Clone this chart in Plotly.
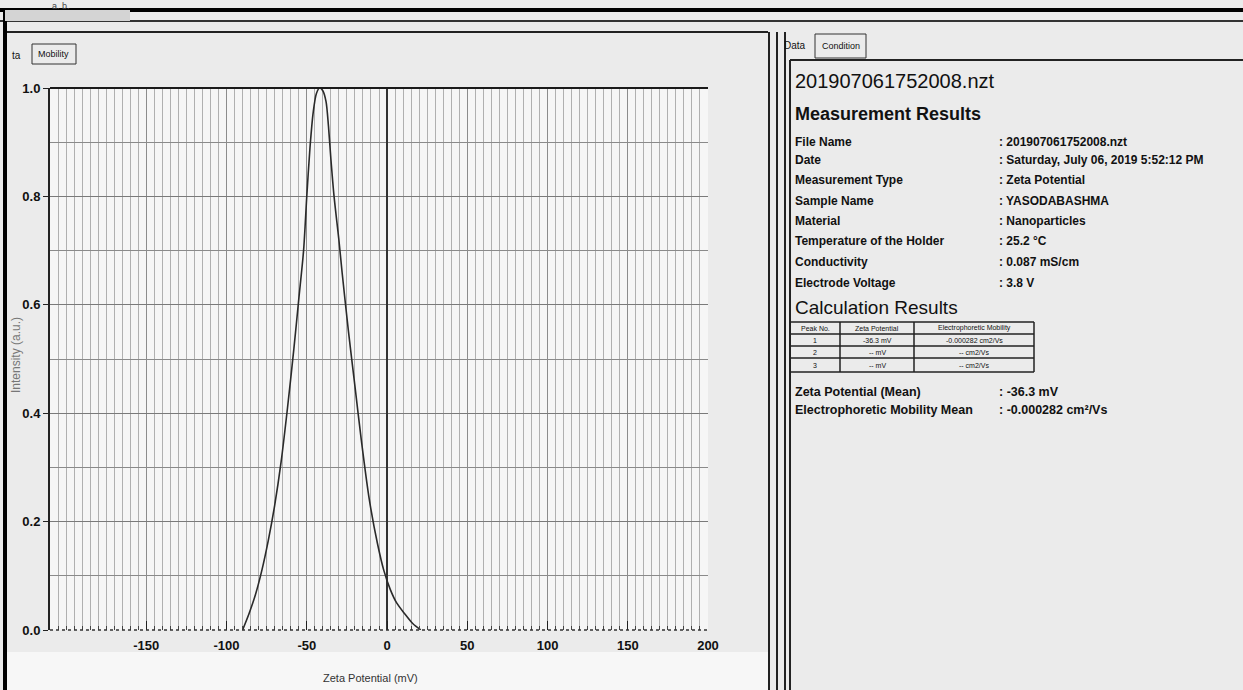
import plotly.graph_objects as go

# ---- data ----
zeta_mv = [-90, -86, -82, -78, -74, -70, -66, -62, -58, -55, -52, -50, -48, -46,
           -44, -42, -40, -38, -36.5, -35, -33, -30, -28, -24, -20, -16, -11,
           -6, -2, 2, 6, 11, 16, 21]
intensity = [0.0, 0.03, 0.065, 0.11, 0.165, 0.23, 0.31, 0.41, 0.52, 0.61, 0.70,
             0.80, 0.89, 0.955, 0.99, 1.0, 0.995, 0.975, 0.93, 0.87, 0.80, 0.72,
             0.66, 0.55, 0.45, 0.35, 0.24, 0.16, 0.11, 0.075, 0.05, 0.03, 0.012, 0.0]

x_ticks = [-150, -100, -50, 0, 50, 100, 150, 200]
y_ticks = [0.0, 0.2, 0.4, 0.6, 0.8, 1.0]

file_title = "201907061752008.nzt"
info_labels = ["File Name", "Date", "Measurement Type", "Sample Name", "Material",
               "Temperature of the Holder", "Conductivity", "Electrode Voltage"]
info_values = ["201907061752008.nzt", "Saturday, July 06, 2019 5:52:12 PM",
               "Zeta Potential", "YASODABASHMA", "Nanoparticles", "25.2 °C",
               "0.087 mS/cm", "3.8 V"]
table_header = ["Peak No.", "Zeta Potential", "Electrophoretic Mobility"]
table_rows = [["1", "-36.3 mV", "-0.000282 cm2/Vs"],
              ["2", "-- mV", "-- cm2/Vs"],
              ["3", "-- mV", "-- cm2/Vs"]]
summary_labels = ["Zeta Potential (Mean)", "Electrophoretic Mobility Mean"]
summary_values = ["-36.3 mV", "-0.000282 cm²/Vs"]

# ---- layout geometry (pixels) ----
W, H = 1243, 690
L, R, T, B = 50, 708, 88, 630


def px(x):
    return (x - L) / (R - L)


def py(y):
    return (B - y) / (B - T)


FONT = "Liberation Sans, Arial, sans-serif"

fig = go.Figure()
fig.add_trace(go.Scatter(x=zeta_mv, y=intensity, mode="lines",
                         line=dict(color="#2a2a2a", width=1.6, shape="spline", smoothing=0.8),
                         showlegend=False, hoverinfo="x+y"))

fig.update_layout(
    width=W, height=H,
    margin=dict(l=L, r=W - R, t=T, b=H - B, pad=0),
    paper_bgcolor="#ebebeb", plot_bgcolor="#f6f6f6",
    font=dict(family=FONT, color="#111"),
    xaxis=dict(range=[-210, 200], tickvals=x_ticks, ticktext=[str(v) for v in x_ticks],
               showgrid=True, gridcolor="#8c8c8c", gridwidth=1,
               minor=dict(dtick=5, tick0=0, showgrid=True, gridcolor="#b0b0b0", gridwidth=1,
                          ticks="inside", ticklen=4, tickcolor="#444"),
               ticks="inside", ticklen=9, tickcolor="#222",
               zeroline=True, zerolinecolor="#333", zerolinewidth=2,
               showline=False, tickfont=dict(size=13, family=FONT, color="#111", weight="bold"),
               ticklabelstandoff=6),
    yaxis=dict(range=[0, 1.0], tickvals=y_ticks, ticktext=["0.0", "0.2", "0.4", "0.6", "0.8", "1.0"],
               showgrid=True, gridcolor="#7a7a7a", gridwidth=1,
               minor=dict(dtick=0.1, showgrid=True, gridcolor="#8a8a8a", gridwidth=1),
               ticks="outside", ticklen=5, tickcolor="#222",
               zeroline=False, showline=True, linecolor="#222", linewidth=2,
               tickfont=dict(size=13, family=FONT, color="#111", weight="bold")),
)

shapes = []
# top plot border
shapes.append(dict(type="line", xref="paper", yref="paper", x0=0, x1=1, y0=1, y1=1,
                   line=dict(color="#1a1a1a", width=2)))
# dotted x baseline
shapes.append(dict(type="line", xref="paper", yref="paper", x0=0, x1=1, y0=0, y1=0,
                   line=dict(color="#333", width=1.5, dash="dot")))
# window frame lines
shapes.append(dict(type="line", xref="paper", yref="paper", x0=px(0), x1=px(W), y0=py(10), y1=py(10),
                   line=dict(color="#000", width=4)))
shapes.append(dict(type="line", xref="paper", yref="paper", x0=px(0), x1=px(W), y0=py(21), y1=py(21),
                   line=dict(color="#333", width=2)))
shapes.append(dict(type="line", xref="paper", yref="paper", x0=px(5), x1=px(768), y0=py(32), y1=py(32),
                   line=dict(color="#222", width=2)))
shapes.append(dict(type="line", xref="paper", yref="paper", x0=px(5), x1=px(5), y0=py(10), y1=py(H),
                   line=dict(color="#000", width=4)))
shapes.append(dict(type="rect", xref="paper", yref="paper", x0=px(5), x1=px(130), y0=py(10), y1=py(21),
                   line=dict(width=0), fillcolor="#d4d4d4"))
for xv in [769, 777, 785]:
    shapes.append(dict(type="line", xref="paper", yref="paper", x0=px(xv), x1=px(xv), y0=py(32), y1=py(H),
                       line=dict(color="#222", width=2)))
# left tab
shapes.append(dict(type="rect", xref="paper", yref="paper", x0=px(32), x1=px(76), y0=py(64), y1=py(44),
                   line=dict(color="#333", width=1), fillcolor="rgba(0,0,0,0)"))
# right tabs and results box
shapes.append(dict(type="rect", xref="paper", yref="paper", x0=px(815), x1=px(866), y0=py(58), y1=py(34),
                   line=dict(color="#333", width=1), fillcolor="rgba(0,0,0,0)"))
shapes.append(dict(type="line", xref="paper", yref="paper", x0=px(790), x1=px(W), y0=py(60), y1=py(60),
                   line=dict(color="#222", width=2)))
shapes.append(dict(type="line", xref="paper", yref="paper", x0=px(790), x1=px(790), y0=py(60), y1=py(H),
                   line=dict(color="#222", width=2)))
# bottom white strip
shapes.append(dict(type="rect", xref="paper", yref="paper", x0=px(7), x1=px(768), y0=py(652), y1=py(H),
                   line=dict(width=0), fillcolor="#f7f7f7", layer="below"))

# calculation table
col_x = [790, 840, 914, 1034]
row_y = [322, 334, 346, 358, 372]
for yv in row_y:
    shapes.append(dict(type="line", xref="paper", yref="paper", x0=px(col_x[0]), x1=px(col_x[-1]),
                       y0=py(yv), y1=py(yv), line=dict(color="#222", width=1.5)))
for xv in col_x:
    shapes.append(dict(type="line", xref="paper", yref="paper", x0=px(xv), x1=px(xv),
                       y0=py(row_y[0]), y1=py(row_y[-1]), line=dict(color="#222", width=1.5)))
fig.update_layout(shapes=shapes)

ann = []


def text(x, y, s, size=12, bold=False, color="#111", anchor="left", angle=0):
    ann.append(dict(x=px(x), y=py(y), xref="paper", yref="paper", text=("<b>%s</b>" % s) if bold else s,
                    showarrow=False, xanchor=anchor, yanchor="middle", textangle=angle,
                    font=dict(size=size, family=FONT, color=color)))


text(10, 55, "ta", 10)
text(36, 54, "Mobility", 9)
text(50, 6, "a. b.", 9, color="#444")
text(782, 46, "Data", 10)
text(820, 46, "Condition", 9)
text(793, 81, file_title, 20)
text(793, 114, "Measurement Results", 18, bold=True)
label_y = [142, 160, 180, 201, 221, 241, 262, 283]
for lab, val, yv in zip(info_labels, info_values, label_y):
    text(793, yv, lab, 12, bold=True)
    text(997, yv, ": " + val, 12, bold=True)
text(793, 307, "Calculation Results", 19)
cell_y = [328, 340, 352, 365]
for ci, h in enumerate(table_header):
    text((col_x[ci] + col_x[ci + 1]) / 2, cell_y[0], h, 7, anchor="center")
for ri, row in enumerate(table_rows):
    for ci, c in enumerate(row):
        text((col_x[ci] + col_x[ci + 1]) / 2, cell_y[ri + 1], c, 7, anchor="center")
for lab, val, yv in zip(summary_labels, summary_values, [392, 410]):
    text(793, yv, lab, 12.5, bold=True)
    text(997, yv, ": " + val, 12.5, bold=True)

text(16, 355, "Intensity (a.u.)", 12, color="#777", anchor="center", angle=-90)
text(370, 678, "Zeta Potential (mV)", 11, color="#333", anchor="center")
fig.update_layout(annotations=ann)

fig.write_html("out.html", config={"displayModeBar": False},
               post_script="document.body.style.margin='0px';document.body.style.overflow='hidden';")
